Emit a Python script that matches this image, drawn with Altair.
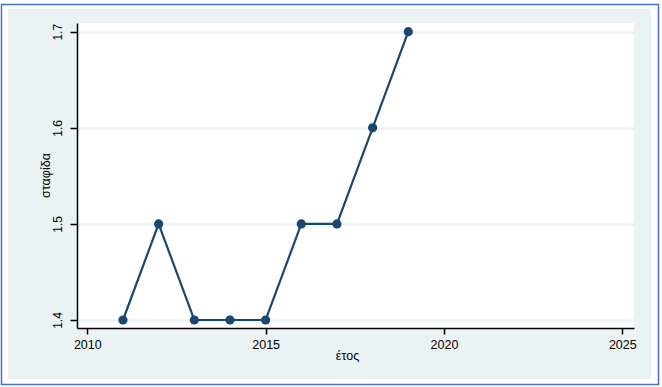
import altair as alt
import pandas as pd

# ---- data ----
years = [2011, 2012, 2013, 2014, 2015, 2016, 2017, 2018, 2019]
values = [1.4, 1.5, 1.4, 1.4, 1.4, 1.5, 1.5, 1.6, 1.7]
x_ticks = [2010, 2015, 2020, 2025]
y_ticks = [1.4, 1.5, 1.6, 1.7]
x_title = "έτος"
y_title = "σταφίδα"

df = pd.DataFrame({"year": years, "value": values})

NAVY = "#1a476f"
BG = "#eaf2f3"
BORDER = "#4472c4"
FONT = "Liberation Sans"

x_enc = alt.X(
    "year:Q",
    scale=alt.Scale(domain=[2009.711, 2025.328], nice=False, zero=False),
    axis=alt.Axis(
        values=x_ticks, format="d", title=x_title, grid=False,
        labelFontSize=12.5, tickSize=6, labelPadding=4,
        titleFontSize=12.5, titleFontWeight="normal",
        titleX=270, titleY=27, titleBaseline="middle", titleAlign="center",
    ),
)
y_enc = alt.Y(
    "value:Q",
    scale=alt.Scale(domain=[1.39167, 1.70906], nice=False, zero=False),
    axis=alt.Axis(
        values=y_ticks, format=".1f", title=y_title, grid=True,
        labelAngle=270, labelAlign="center", labelBaseline="bottom",
        labelFontSize=12, tickSize=7, labelPadding=6,
        titleFontSize=12.5, titleFontWeight="normal", titleAngle=270,
        titleX=-32, titleY=152, titleBaseline="middle", titleAlign="center",
    ),
)

base = alt.Chart(df).encode(x=x_enc, y=y_enc)
line = base.mark_line(color=NAVY, strokeWidth=2.2)
points = base.mark_circle(color=NAVY, size=85, opacity=1)

frame_data = alt.Data(values=[{"k": 1}])
white_ring = alt.Chart(frame_data).mark_rect(
    fillOpacity=0, stroke="white", strokeWidth=12
).encode(x=alt.value(-75), x2=alt.value(580), y=alt.value(-20), y2=alt.value(362))
blue_border = alt.Chart(frame_data).mark_rect(
    fillOpacity=0, stroke=BORDER, strokeWidth=1.5
).encode(x=alt.value(-75.5), x2=alt.value(581.5), y=alt.value(-18.5), y2=alt.value(361.5))

chart = (
    alt.layer(white_ring, blue_border, line, points)
    .properties(
        width=557, height=305,
        autosize=alt.AutoSizeParams(type="none"),
        padding={"left": 77, "top": 23, "right": 28, "bottom": 59},
        background=BG,
    )
    .configure_view(fill="white", strokeWidth=0)
    .configure_axis(
        domainColor="black", tickColor="black", labelColor="black",
        titleColor="black", gridColor=BG, gridWidth=2.5,
        domainWidth=1.5, tickWidth=1.5, labelFont=FONT, titleFont=FONT,
    )
)

chart.save("out.html", embed_options={"renderer": "svg", "actions": False})
